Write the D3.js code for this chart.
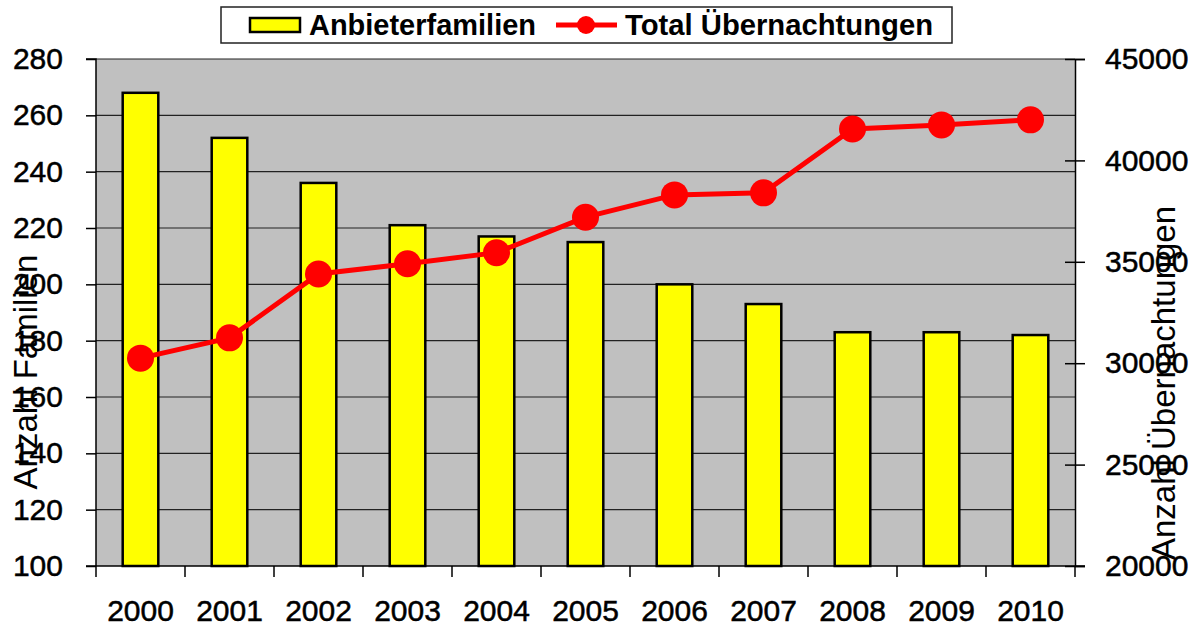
<!DOCTYPE html>
<html>
<head>
<meta charset="utf-8">
<script src="https://cdn.jsdelivr.net/npm/d3@7"></script>
<style>
  body { margin: 0; background: #fff; }
  text { font-family: "Liberation Sans", Arial, sans-serif; }
</style>
</head>
<body>
<div id="chart"></div>
<script>
// Data
const years = ["2000", "2001", "2002", "2003", "2004", "2005", "2006", "2007", "2008", "2009", "2010"];
const familien = [268, 252, 236, 221, 217, 215, 200, 193, 183, 183, 182];
const uebernachtungen = [30250, 31250, 34400, 34900, 35450, 37200, 38300, 38400, 41550, 41750, 42000];
const leftTicks = [100, 120, 140, 160, 180, 200, 220, 240, 260, 280];
const rightTicks = [20000, 25000, 30000, 35000, 40000, 45000];

// Setup
const W = 1202, H = 630;
const margin = { top: 59, right: 127, bottom: 64, left: 96 };
const width = W - margin.left - margin.right;
const height = H - margin.top - margin.bottom;
const FONT = '"Liberation Sans", Arial, sans-serif';

const svg = d3.select("#chart").append("svg")
    .attr("width", W)
    .attr("height", H)
  .append("g")
    .attr("transform", `translate(${margin.left},${margin.top})`);

const x = d3.scaleBand().domain(years).range([0, width]).paddingInner(0).paddingOuter(0);
const yL = d3.scaleLinear().domain([100, 280]).range([height, 0]);
const yR = d3.scaleLinear().domain([20000, 45000]).range([height, 0]);

// plot background + gridlines
svg.append("rect").attr("width", width).attr("height", height).attr("fill", "#c0c0c0");
svg.selectAll(".grid").data(leftTicks.slice(1)).enter().append("line")
    .attr("x1", 0).attr("x2", width)
    .attr("y1", d => yL(d)).attr("y2", d => yL(d))
    .attr("stroke", "#222").attr("stroke-width", 1.2);

// bars
const barW = x.bandwidth() * 0.4;
svg.selectAll(".bar").data(familien).enter().append("rect")
    .attr("x", (d, i) => x(years[i]) + (x.bandwidth() - barW) / 2)
    .attr("width", barW)
    .attr("y", d => yL(d))
    .attr("height", d => yL(100) - yL(d))
    .attr("fill", "#ffff00")
    .attr("stroke", "#000").attr("stroke-width", 2.5);

// axes
const leftAxis = svg.append("g")
    .call(d3.axisLeft(yL).tickValues(leftTicks).tickSize(10).tickPadding(23));
const rightAxis = svg.append("g").attr("transform", `translate(${width},0)`)
    .call(d3.axisRight(yR).tickValues(rightTicks).tickSize(10).tickPadding(20).tickFormat(d3.format("d")));
rightAxis.selectAll(".tick line").attr("x1", -10);
const bottomAxis = svg.append("g").attr("transform", `translate(0,${height})`)
    .call(d3.axisBottom(x).tickSize(0).tickPadding(34));

[leftAxis, rightAxis, bottomAxis].forEach(a => {
  a.select(".domain").attr("stroke", "#000").attr("stroke-width", 1.5);
  a.selectAll(".tick line").attr("stroke", "#000").attr("stroke-width", 1.5);
  a.selectAll("text").attr("font-size", 30).attr("fill", "#000")
    .attr("stroke", "#000").attr("stroke-width", 0.5)
    .style("font-family", FONT);
});
leftAxis.select(".domain").attr("d", `M-10,0H0V${height}`);
bottomAxis.select(".domain").attr("d", `M-10,0H${width + 10}`);

// category boundary ticks on x axis
svg.selectAll(".xtick").data(years.concat(["end"])).enter().append("line")
    .attr("x1", (d, i) => i * x.step()).attr("x2", (d, i) => i * x.step())
    .attr("y1", height).attr("y2", height + 11)
    .attr("stroke", "#000").attr("stroke-width", 1.5);

// line series
const line = d3.line()
    .x((d, i) => x(years[i]) + x.bandwidth() / 2)
    .y(d => yR(d));
svg.append("path").datum(uebernachtungen)
    .attr("d", line).attr("fill", "none")
    .attr("stroke", "#ff0000").attr("stroke-width", 5);
svg.selectAll(".dot").data(uebernachtungen).enter().append("circle")
    .attr("cx", (d, i) => x(years[i]) + x.bandwidth() / 2)
    .attr("cy", d => yR(d))
    .attr("r", 13.5)
    .attr("fill", "#ff0000");

// axis titles
svg.append("text")
    .attr("transform", `translate(${25 - margin.left},${372 - margin.top}) rotate(-90)`)
    .attr("text-anchor", "middle").attr("dominant-baseline", "central")
    .attr("font-size", 33).text("Anzahl Familien");
svg.append("text")
    .attr("transform", `translate(${1163 - margin.left},${383 - margin.top}) rotate(-90)`)
    .attr("text-anchor", "middle").attr("dominant-baseline", "central")
    .attr("font-size", 33).text("Anzahl Übernachtungen");

// legend
const lg = d3.select("svg").append("g");
lg.append("rect").attr("x", 221).attr("y", 7).attr("width", 731).attr("height", 36)
    .attr("fill", "#fff").attr("stroke", "#222").attr("stroke-width", 1.5);
lg.append("rect").attr("x", 250).attr("y", 18).attr("width", 50).attr("height", 14)
    .attr("fill", "#ffff00").attr("stroke", "#000").attr("stroke-width", 2.5);
lg.append("text").attr("x", 309).attr("y", 35)
    .style("font-family", FONT).attr("font-weight", "bold")
    .attr("font-size", 30).attr("textLength", 227).attr("lengthAdjust", "spacingAndGlyphs")
    .text("Anbieterfamilien");
lg.append("line").attr("x1", 556).attr("x2", 617).attr("y1", 25).attr("y2", 25)
    .attr("stroke", "#ff0000").attr("stroke-width", 5);
lg.append("circle").attr("cx", 586).attr("cy", 25).attr("r", 9).attr("fill", "#ff0000");
lg.append("text").attr("x", 625).attr("y", 35)
    .style("font-family", FONT).attr("font-weight", "bold")
    .attr("font-size", 30).attr("textLength", 308).attr("lengthAdjust", "spacingAndGlyphs")
    .text("Total Übernachtungen");
</script>
</body>
</html>
